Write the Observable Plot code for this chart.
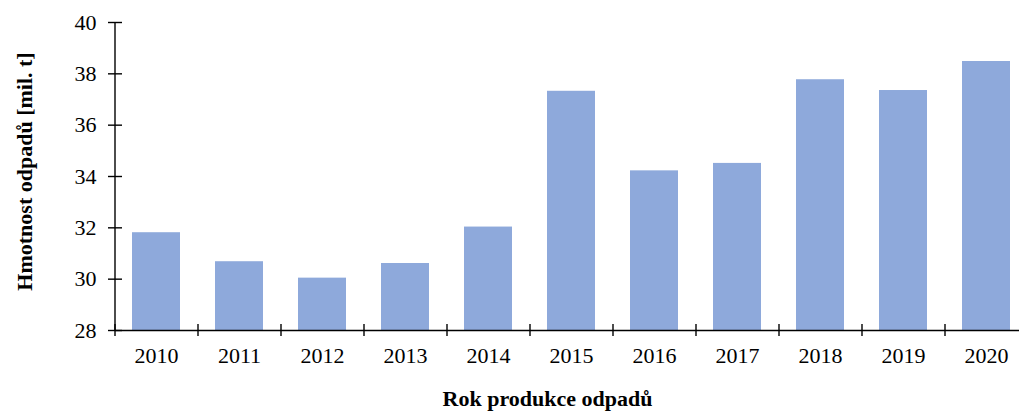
<!DOCTYPE html>
<html>
<head>
<meta charset="utf-8">
<script src="https://cdn.jsdelivr.net/npm/d3@7"></script>
<script src="https://cdn.jsdelivr.net/npm/@observablehq/plot@0.6"></script>
<style>
  html, body { margin: 0; padding: 0; background: #fff; }
  #chart { width: 1019px; height: 416px; overflow: hidden; }
  #chart svg text { font-family: "Liberation Serif", "Times New Roman", serif; font-variant: normal; }
</style>
</head>
<body>
<div id="chart"></div>
<script>
const years = ["2010", "2011", "2012", "2013", "2014", "2015", "2016", "2017", "2018", "2019", "2020"];
const values = [31.81, 30.68, 30.04, 30.61, 32.03, 37.32, 34.22, 34.51, 37.77, 37.35, 38.48];
const yTicks = [28, 30, 32, 34, 36, 38, 40];
const xTitle = "Rok produkce odpadů";
const yTitle = "Hmotnost odpadů [mil. t]";

const data = years.map((year, i) => ({year, value: values[i]}));

const W = 1019, H = 416;
const xRange = [115, 1028];
const step = (xRange[1] - xRange[0]) / years.length;
const serif = "Liberation Serif";

const chart = Plot.plot({
  width: W,
  height: H,
  marginLeft: 115,
  marginRight: 0,
  marginTop: 22,
  marginBottom: 86,
  style: {fontFamily: serif, fontSize: "22px", color: "#000", background: "#fff"},
  x: {domain: years, range: xRange, paddingInner: 0.42, paddingOuter: 0.21, label: null},
  y: {domain: [28, 40], label: null},
  marks: [
    Plot.barY(data, {x: "year", y1: 28, y2: "value", fill: "#8EA9DB"}),
    // y axis: crossing ticks + labels
    Plot.axisY({ticks: yTicks, tickSize: 14, tickPadding: 12, dx: 7, label: null, fontSize: 22, fontFamily: serif, fontVariant: "normal", strokeWidth: 1.4}),
    // x axis labels
    Plot.axisX({tickSize: 0, tickPadding: 17, label: null, fontSize: 22, fontFamily: serif, fontVariant: "normal"}),
    // x boundary ticks (between categories)
    Plot.ruleX(years, {x: d => d, y1: 28, y2: 28, insetTop: -6, insetBottom: -6, dx: -step / 2, stroke: "#000", strokeWidth: 1.4}),
    // axis lines
    Plot.ruleY([28], {stroke: "#000", strokeWidth: 1.4}),
    Plot.ruleX([years[0]], {y1: 28, y2: 40, dx: -step / 2, stroke: "#000", strokeWidth: 1.4}),
    // titles
    Plot.text([xTitle], {frameAnchor: "bottom", dx: -20, dy: 75, fontWeight: "bold", fontSize: 22, fontFamily: serif, fill: "#000"}),
    Plot.text([yTitle], {frameAnchor: "left", textAnchor: "middle", rotate: -90, dx: -91, dy: -5, fontWeight: "bold", fontSize: 22, fontFamily: serif, fill: "#000"})
  ]
});
document.getElementById("chart").appendChild(chart);
</script>
</body>
</html>
